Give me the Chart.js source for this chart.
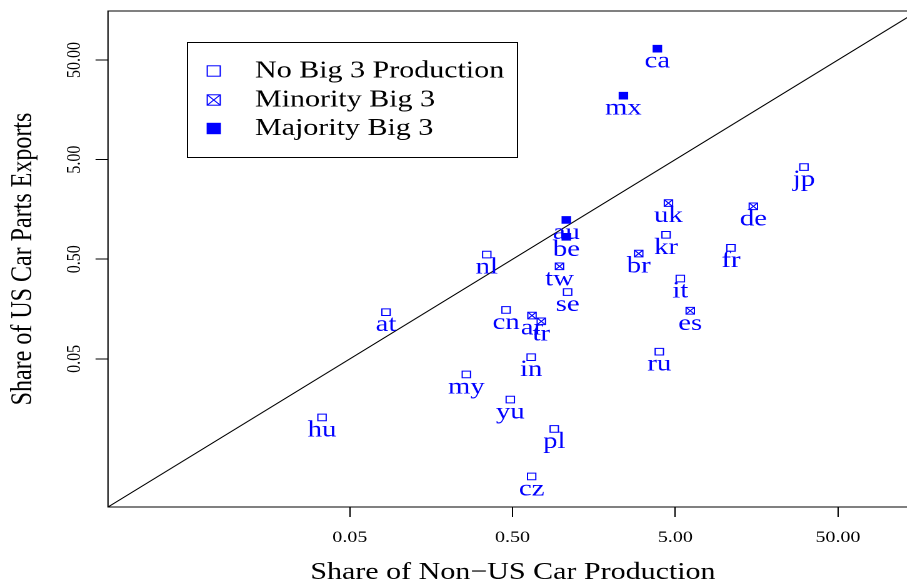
<!DOCTYPE html>
<html>
<head>
<meta charset="utf-8">
<script src="https://cdn.jsdelivr.net/npm/chart.js@4.4.1/dist/chart.umd.min.js"></script>
<style>
  html, body { margin: 0; padding: 0; overflow: hidden; background: #fff; }
  /* the reference is stretched sideways, so draw narrower and widen it */
  #wrap { width: 740px; height: 581px; transform: scaleX(1.25); transform-origin: 0 0; }
</style>
</head>
<body>
<div id="wrap"><canvas id="chart" width="740" height="581"></canvas></div>
<script>
const codes       = ['ca', 'mx', 'au', 'be', 'jp', 'uk', 'de', 'kr', 'br', 'fr', 'it', 'es', 'ru',
                     'nl', 'tw', 'se', 'cn', 'ar', 'tr', 'at', 'hu', 'my', 'in', 'yu', 'pl', 'cz'];
const prodShare   = [3.88, 2.40, 1.07, 1.07, 30.9, 4.54, 15.1, 4.39, 2.98, 11.0, 5.37, 6.18, 3.99,
                     0.347, 0.972, 1.09, 0.456, 0.658, 0.751, 0.0834, 0.0337, 0.260, 0.651, 0.484, 0.902, 0.655];
const exportShare = [64.8, 21.9, 1.24, 0.84, 4.21, 1.83, 1.70, 0.88, 0.57, 0.65, 0.32, 0.152, 0.059,
                     0.557, 0.424, 0.234, 0.155, 0.136, 0.119, 0.147, 0.0129, 0.0349, 0.052, 0.0195, 0.0099, 0.0033];
const big3        = ['majority', 'majority', 'majority', 'majority', 'none', 'minority', 'minority', 'none',
                     'minority', 'none', 'none', 'minority', 'none', 'none', 'minority', 'none', 'none',
                     'minority', 'minority', 'none', 'none', 'none', 'none', 'none', 'none', 'none'];
const groupKeys   = ['none', 'minority', 'majority'];
const groupNames  = ['No Big 3 Production', 'Minority Big 3', 'Majority Big 3'];
const xTicks = [0.05, 0.5, 5, 50];
const yTicks = [0.05, 0.5, 5, 50];
const axisMin = 0.00163;
const axisMax = 155;

const BLUE = '#0000ff';
const SERIF = '"Liberation Serif", "Times New Roman", serif';

const datasets = groupKeys.map(key => {
  const pts = [];
  codes.forEach((c, i) => {
    if (big3[i] === key) pts.push({ x: prodShare[i], y: exportShare[i], code: c });
  });
  return {
    label: groupNames[groupKeys.indexOf(key)],
    group: key,
    data: pts,
    pointStyle: 'rect',
    pointRadius: 4.7,
    pointBorderWidth: 1,
    pointBorderColor: BLUE,
    pointBackgroundColor: key === 'majority' ? BLUE : 'rgba(0,0,0,0)',
    showLine: false
  };
});

// 45 degree reference line
datasets.push({
  type: 'line',
  data: [{ x: axisMin, y: axisMin }, { x: axisMax, y: axisMax }],
  borderColor: '#000',
  borderWidth: 1,
  pointRadius: 0,
  fill: false
});

const decorations = {
  id: 'decorations',
  afterDatasetsDraw(chart) {
    const ctx = chart.ctx;
    ctx.save();
    chart.data.datasets.forEach((ds, i) => {
      if (!ds.group) return;
      const meta = chart.getDatasetMeta(i);
      const s = Math.SQRT1_2 * ds.pointRadius;
      meta.data.forEach((pt, j) => {
        if (ds.group === 'minority') {
          ctx.strokeStyle = BLUE;
          ctx.lineWidth = 1;
          ctx.beginPath();
          ctx.moveTo(pt.x - s, pt.y - s); ctx.lineTo(pt.x + s, pt.y + s);
          ctx.moveTo(pt.x - s, pt.y + s); ctx.lineTo(pt.x + s, pt.y - s);
          ctx.stroke();
        }
        ctx.fillStyle = BLUE;
        ctx.font = '23px ' + SERIF;
        ctx.textAlign = 'center';
        ctx.textBaseline = 'alphabetic';
        ctx.fillText(ds.data[j].code, pt.x, pt.y + 19);
      });
    });
    ctx.restore();
  },
  afterDraw(chart) {
    const { ctx, chartArea: a, scales: { x, y } } = chart;
    ctx.save();
    ctx.strokeStyle = '#000';
    ctx.lineWidth = 1;
    ctx.strokeRect(a.left, a.top, a.right - a.left, a.bottom - a.top);

    ctx.fillStyle = '#000';
    ctx.font = '16px ' + SERIF;
    ctx.textAlign = 'center';
    ctx.textBaseline = 'alphabetic';
    xTicks.forEach(v => ctx.fillText(v.toFixed(2), x.getPixelForValue(v), 542));
    yTicks.forEach(v => {
      ctx.save();
      ctx.translate(64, y.getPixelForValue(v));
      ctx.rotate(-Math.PI / 2);
      ctx.fillText(v.toFixed(2), 0, 0);
      ctx.restore();
    });

    ctx.font = '24px ' + SERIF;
    ctx.fillText('Share of Non\u2212US Car Production', (a.left + a.right) / 2, 579);
    ctx.save();
    ctx.translate(25, (a.top + a.bottom) / 2);
    ctx.rotate(-Math.PI / 2);
    ctx.fillText('Share of US Car Parts Exports', 0, 0);
    ctx.restore();

    // legend
    ctx.strokeRect(150, 42.5, 264, 115);
    const rows = [71, 100, 128.5];
    rows.forEach((ry, i) => {
      const cx = 171, h = 5.2;
      ctx.strokeStyle = BLUE;
      ctx.fillStyle = BLUE;
      if (groupKeys[i] === 'majority') {
        ctx.fillRect(cx - h, ry - h, 2 * h, 2 * h);
      }
      ctx.strokeRect(cx - h, ry - h, 2 * h, 2 * h);
      if (groupKeys[i] === 'minority') {
        ctx.beginPath();
        ctx.moveTo(cx - h, ry - h); ctx.lineTo(cx + h, ry + h);
        ctx.moveTo(cx - h, ry + h); ctx.lineTo(cx + h, ry - h);
        ctx.stroke();
      }
      ctx.fillStyle = '#000';
      ctx.textAlign = 'left';
      ctx.fillText(groupNames[i], 204, ry + 6.3);
    });
    ctx.restore();
  }
};

const axisCommon = {
  type: 'logarithmic',
  min: axisMin,
  max: axisMax,
  grid: { drawOnChartArea: false, drawTicks: true, tickLength: 10, color: '#000', lineWidth: 1 },
  border: { display: false },
  ticks: { display: false }
};

new Chart(document.getElementById('chart'), {
  type: 'scatter',
  data: { datasets: datasets },
  options: {
    responsive: false,
    animation: false,
    devicePixelRatio: 2,
    layout: { padding: { top: 11, right: 3.7, left: 0, bottom: 0 } },
    plugins: { legend: { display: false }, tooltip: { enabled: false } },
    scales: {
      x: Object.assign({}, axisCommon, {
        position: 'bottom',
        afterBuildTicks: s => { s.ticks = xTicks.map(v => ({ value: v })); },
        afterFit: s => { s.height = 74; }
      }),
      y: Object.assign({}, axisCommon, {
        position: 'left',
        afterBuildTicks: s => { s.ticks = yTicks.map(v => ({ value: v })); },
        afterFit: s => { s.width = 86.4; }
      })
    }
  },
  plugins: [decorations]
});
</script>
</body>
</html>
